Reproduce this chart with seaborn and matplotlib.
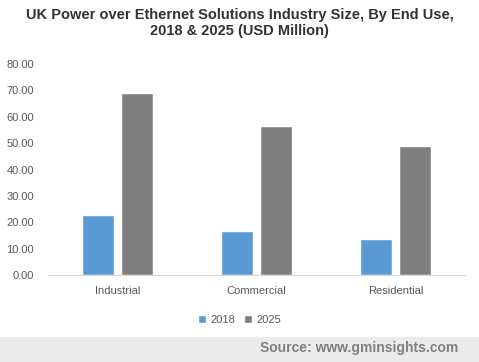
import matplotlib
matplotlib.use("Agg")
import matplotlib.pyplot as plt
import seaborn as sns
import pandas as pd

categorias = ["Industrial", "Commercial", "Residential"]
anos = ["2018", "2025"]
valores_2018 = [22.7, 16.7, 13.6]
valores_2025 = [68.9, 56.4, 48.9]

df = pd.DataFrame({
    "uso": categorias * 2,
    "ano": ["2018"] * 3 + ["2025"] * 3,
    "valor": valores_2018 + valores_2025,
})

sns.set_style("white")
plt.rcParams["font.family"] = ["Liberation Sans", "DejaVu Sans"]

fig = plt.figure(figsize=(4.79, 3.62), dpi=100)
ax = fig.add_axes([48 / 479, 1 - 275 / 362, 417 / 479, 211 / 362])

sns.barplot(data=df, x="uso", y="valor", hue="ano", hue_order=anos,
            palette=["#5B9BD5", "#7F7F7F"], width=0.57, gap=0.19,
            saturation=1, ax=ax, legend=True)

ax.set_xlim(-0.5, 2.5)
ax.set_ylim(0, 80)
ax.set_yticks(range(0, 81, 10))
ax.set_yticklabels([f"{v:.2f}" for v in range(0, 81, 10)], fontsize=8, color="#595959")
ax.tick_params(axis="x", labelsize=8, colors="#595959", length=0, pad=8)
ax.tick_params(axis="y", length=0, pad=10)
ax.set_xlabel("")
ax.set_ylabel("")
for s in ["top", "right", "left"]:
    ax.spines[s].set_visible(False)
ax.spines["bottom"].set_color("#D9D9D9")

ax.legend(loc="upper center", bbox_to_anchor=(0.46, -0.14), ncol=2, frameon=False,
          fontsize=8, handlelength=0.7, handleheight=0.7, handletextpad=0.4,
          columnspacing=0.8, labelcolor="#595959")

fig.text(0.5, 1 - 23 / 362, "UK Power over Ethernet Solutions Industry Size, By End Use,\n2018 & 2025 (USD Million)",
         ha="center", va="center", fontsize=10.5, fontweight="bold", color="#333333", linespacing=1.2)

fig.patches.append(plt.Rectangle((0, 0), 1, 25 / 362, transform=fig.transFigure,
                                 color="#EBEBEB", zorder=0))
fig.text(458 / 479, 14 / 362, "Source: www.gminsights.com", ha="right", va="center",
         fontsize=10, fontweight="bold", color="#7F7F7F")

fig.savefig("out.png", dpi=100)
